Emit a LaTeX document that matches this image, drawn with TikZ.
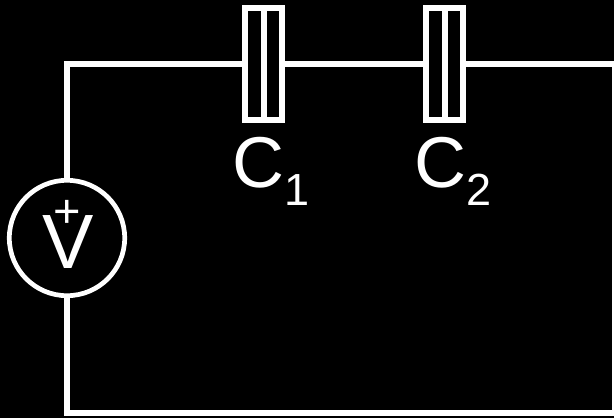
\documentclass[tikz,border=0pt]{standalone}
\usepackage{fontspec}
\setmainfont{Liberation Sans}
\tikzstyle{wire}=[line width=6pt, white]
\tikzstyle{capbox}=[rectangle, draw=white, line width=6pt, minimum width=37pt, minimum height=112pt, inner sep=0pt]
\tikzstyle{source}=[circle, draw=white, line width=4.7pt, minimum size=115.4pt, inner sep=0pt]
\tikzstyle{lbl}=[text=white, inner sep=0pt, font=\fontsize{72}{72}\selectfont]

\begin{document}
\begin{tikzpicture}[x=1pt, y=-1pt]
            \fill[black] (0,0) rectangle (614,418);
            \useasboundingbox (0,0) rectangle (614,418);

            \node[source] (V) at (67,238) {};
            \node[capbox] (C1) at (263.5,64) {};
            \node[capbox] (C2) at (444.7,64) {};
            \draw[wire] (C1.north) -- (C1.south);
            \draw[wire] (C2.north) -- (C2.south);

            \coordinate (tl) at (V.north |- C1.west);
            \coordinate (tr) at (614.5,64);
            \coordinate (br) at (614.5,413);
            \coordinate (bl) at (V.south |- br);
            \draw[wire] (V.north) -- (tl) -- (C1.west);
            \draw[wire] (C1.east) -- (C2.west);
            \draw[wire] (C2.east) -- (tr) -- (br) -- (bl) -- (V.south);

            \node[lbl, anchor=base, font=\fontsize{77}{77}\selectfont] (Vlbl) at (68,268) {V};
            \node[lbl, font=\fontsize{47}{47}\selectfont] (plus) at (67,214) {+};
            \node[lbl, anchor=base west] (C1lbl) at (232.5,187.5)
                {C\raisebox{-18pt}{\fontsize{45}{45}\selectfont 1}};
            \node[lbl, anchor=base west] (C2lbl) at (414.5,187.5)
                {C\raisebox{-18pt}{\fontsize{45}{45}\selectfont 2}};
\end{tikzpicture}
\end{document}
